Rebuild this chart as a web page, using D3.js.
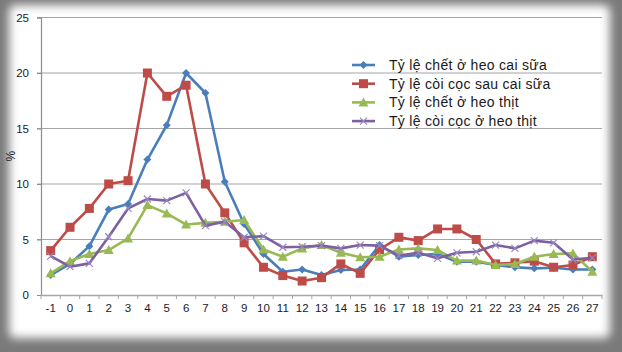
<!DOCTYPE html>
<html><head><meta charset="utf-8">
<script src="https://cdn.jsdelivr.net/npm/d3@7"></script>
<style>html,body{margin:0;padding:0;background:#fff}svg{display:block}</style>
</head><body><svg id="c" width="622" height="352"></svg>
<script>
const categories = [-1,0,1,2,3,4,5,6,7,8,9,10,11,12,13,14,15,16,17,18,19,20,21,22,23,24,25,26,27];
const seriesNames = ["Tỷ lệ chết ở heo cai sữa","Tỷ lệ còi cọc sau cai sữa","Tỷ lệ chết ở heo thịt","Tỷ lệ còi cọc ở heo thịt"];
const chetCaiSua = [1.8,2.8,4.4,7.7,8.2,12.2,15.3,20.0,18.2,10.2,6.4,3.7,2.1,2.3,1.8,2.25,2.3,4.5,3.45,3.6,3.7,3.0,3.0,2.7,2.5,2.4,2.45,2.3,2.3];
const coiCocSauCaiSua = [4.0,6.1,7.8,10.0,10.3,20.0,17.9,18.9,10.0,7.4,4.7,2.5,1.75,1.26,1.56,2.8,1.95,4.1,5.2,4.9,5.95,5.95,5.0,2.8,2.9,3.05,2.5,2.7,3.45];
const chetHeoThit = [1.95,3.05,3.7,4.05,5.1,8.1,7.35,6.35,6.5,6.6,6.75,4.1,3.45,4.2,4.5,3.8,3.4,3.45,4.1,4.2,4.05,3.1,3.1,2.7,2.8,3.45,3.7,3.75,2.1];
const coiCocHeoThit = [3.5,2.55,2.85,5.25,7.8,8.65,8.5,9.2,6.25,6.6,5.2,5.3,4.3,4.35,4.45,4.2,4.5,4.45,3.55,3.8,3.3,3.8,3.9,4.5,4.2,4.9,4.7,3.2,3.35];
const yTicks = [0,5,10,15,20,25];
const yLabel = "%";

const colors = ["#4a7ebb","#be4b48","#98b954","#7d60a0"];
const markers = ["diamond","square","triangle","cross"];
const seriesValues = [chetCaiSua, coiCocSauCaiSua, chetHeoThit, coiCocHeoThit];

const svg = d3.select("#c");
const W = 622, H = 352;
const defs = svg.append("defs");
const f = defs.append("filter").attr("id","blur").attr("x","-10%").attr("y","-10%").attr("width","120%").attr("height","120%");
f.append("feGaussianBlur").attr("stdDeviation",5);

svg.append("rect").attr("width",W).attr("height",H).attr("fill","#7a7a7a");
svg.append("rect").attr("x",9).attr("y",5).attr("width",601).attr("height",333).attr("rx",6)
  .attr("fill","#fff").attr("filter","url(#blur)");

const m = {l:41, r:602, t:17.5, b:295};
const x = d3.scaleBand().domain(categories).range([m.l, m.r]).paddingInner(0).paddingOuter(0);
const y = d3.scaleLinear().domain([0,25]).range([m.b, m.t]);
const cx = c => x(c) + x.bandwidth()/2;

// gridlines
svg.append("g").selectAll("line").data(yTicks.filter(t=>t>0)).join("line")
  .attr("x1",m.l-4).attr("x2",m.r).attr("y1",d=>y(d)).attr("y2",d=>y(d))
  .attr("stroke","#a6a6a6").attr("stroke-width",1.2);

// y axis
const ya = svg.append("g").attr("transform",`translate(${m.l},0)`)
  .call(d3.axisLeft(y).tickValues(yTicks).tickSize(4).tickPadding(8));
ya.select(".domain").attr("stroke","#8c8c8c").attr("stroke-width",1.2);
ya.selectAll(".tick line").attr("stroke","#8c8c8c");
ya.selectAll("text").attr("font-family","Liberation Sans, Arial, sans-serif").attr("font-size",11.5).attr("fill","#1a1a2e");

// x axis
const xa = svg.append("g").attr("transform",`translate(0,${m.b})`)
  .call(d3.axisBottom(x).tickSize(0).tickPadding(9));
xa.select(".domain").attr("stroke","#a6a6a6").attr("stroke-width",1.5);
xa.selectAll("text").attr("font-family","Liberation Sans, Arial, sans-serif").attr("font-size",11.5).attr("fill","#1a1a2e");
svg.append("g").selectAll("line").data(categories.concat(["end"])).join("line")
  .attr("x1",(d,i)=>m.l + i*x.bandwidth()).attr("x2",(d,i)=>m.l + i*x.bandwidth())
  .attr("y1",m.b).attr("y2",m.b+4).attr("stroke","#a6a6a6").attr("stroke-width",1);

svg.append("text").attr("transform",`translate(15,${(m.t+m.b)/2}) rotate(-90)`)
  .attr("text-anchor","middle").attr("font-family","Liberation Sans, Arial, sans-serif")
  .attr("font-size",12).attr("fill","#1a1a2e").text(yLabel);

function drawMarker(g, type, color, px, py) {
  if (type === "diamond") {
    g.append("path").attr("d",`M${px},${py-4}L${px+4},${py}L${px},${py+4}L${px-4},${py}Z`).attr("fill",color);
  } else if (type === "square") {
    g.append("rect").attr("x",px-4.5).attr("y",py-4.5).attr("width",9).attr("height",9).attr("fill",color);
  } else if (type === "triangle") {
    g.append("path").attr("d",`M${px},${py-5}L${px+5},${py+4}L${px-5},${py+4}Z`).attr("fill",color);
  } else {
    g.append("path").attr("d",`M${px-3.5},${py-3.5}L${px+3.5},${py+3.5}M${px-3.5},${py+3.5}L${px+3.5},${py-3.5}`)
      .attr("stroke","#9a86c0").attr("stroke-width",1.2);
  }
}

const line = d3.line().x((d,i)=>cx(categories[i])).y(d=>y(d));
seriesValues.forEach((vals, si) => {
  const g = svg.append("g");
  g.append("path").datum(vals).attr("d",line).attr("fill","none")
    .attr("stroke",colors[si]).attr("stroke-width",2.6).attr("stroke-linejoin","round");
  vals.forEach((v,i)=>drawMarker(g, markers[si], colors[si], cx(categories[i]), y(v)));
});

// legend
const lg = svg.append("g");
seriesNames.forEach((name, i) => {
  const ly = 65 + i*18.7;
  lg.append("line").attr("x1",352).attr("x2",375).attr("y1",ly).attr("y2",ly)
    .attr("stroke",colors[i]).attr("stroke-width",2.6);
  drawMarker(lg, markers[i], colors[i], 363.5, ly);
  lg.append("text").attr("x",389).attr("y",ly+5).attr("font-family","Liberation Sans, Arial, sans-serif")
    .attr("font-size",14).attr("letter-spacing",0.3).attr("fill","#1a1a1a").text(name);
});
</script></body></html>
